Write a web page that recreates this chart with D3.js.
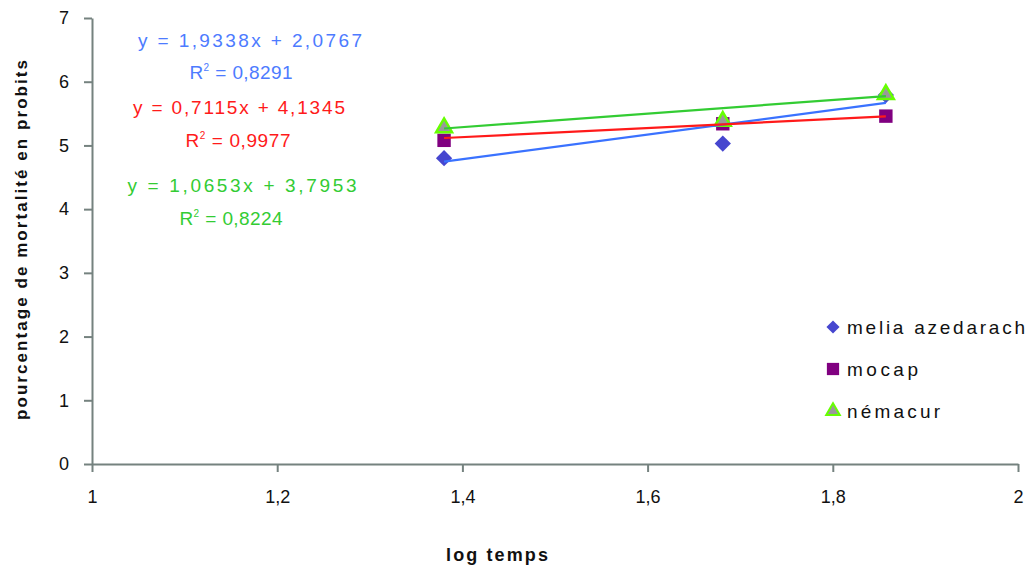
<!DOCTYPE html>
<html><head><meta charset="utf-8">
<script src="https://cdn.jsdelivr.net/npm/d3@7"></script>
<style>
body{margin:0;background:#fff;}
text{font-family:"Liberation Sans",Arial,sans-serif;}
</style></head>
<body><svg id="c" width="1033" height="570"></svg>
<script>
const logTemps = [1.3802, 1.6812, 1.8573];
const seriesNames = ["melia azedarach", "mocap", "némacur"];
const meliaValues = [4.80, 5.03, 5.79];
const mocapValues = [5.08, 5.34, 5.46];
const nemacurValues = [5.28, 5.38, 5.80];
const trendSlopes = [1.9338, 0.7115, 1.0653];
const trendIntercepts = [2.0767, 4.1345, 3.7953];
const equationLabels = ["y = 1,9338x + 2,0767", "y = 0,7115x + 4,1345", "y = 1,0653x + 3,7953"];
const r2Labels = ["0,8291", "0,9977", "0,8224"];
const xTicks = [1, 1.2, 1.4, 1.6, 1.8, 2];
const yTicks = [0, 1, 2, 3, 4, 5, 6, 7];

const svg = d3.select("#c");
const L = 92, R = 1018, T = 18, B = 464;
const x = d3.scaleLinear().domain([1, 2]).range([L, R]);
const y = d3.scaleLinear().domain([0, 7]).range([B, T]);
const fmt = v => String(+v.toFixed(1)).replace(".", ",");
const axisCol = "#75827f";

const xa = svg.append("g").attr("transform", `translate(0,${B})`)
  .call(d3.axisBottom(x).tickValues(xTicks).tickFormat(fmt).tickSize(8).tickPadding(25).tickSizeOuter(0));
const ya = svg.append("g").attr("transform", `translate(${L},0)`)
  .call(d3.axisLeft(y).tickValues(yTicks).tickFormat(d => d).tickSize(8).tickPadding(15).tickSizeOuter(0));
[xa, ya].forEach(a => {
  a.select(".domain").attr("stroke", axisCol).attr("stroke-width", 2);
  a.selectAll(".tick line").attr("stroke", axisCol).attr("stroke-width", 2);
  a.selectAll(".tick text").attr("font-size", 18).attr("fill", "#111").attr("font-family", "Liberation Sans, Arial");
});
xa.selectAll(".tick text").attr("dy", "0.32em");

// axis titles
svg.append("text").attr("x", 497).attr("y", 561).attr("text-anchor", "middle")
  .attr("font-size", 18).attr("font-weight", "bold").attr("fill", "#111")
  .attr("textLength", 102).attr("lengthAdjust", "spacing").text("log temps");
svg.append("text").attr("transform", "translate(27,240) rotate(-90)").attr("text-anchor", "middle")
  .attr("font-size", 17).attr("font-weight", "bold").attr("fill", "#111")
  .attr("textLength", 360).attr("lengthAdjust", "spacing").text("pourcentage de mortalité en probits");

const seriesData = [meliaValues, mocapValues, nemacurValues];
const fatDiamond = {draw(ctx, size) { const r = Math.sqrt(size) / 2 * 1.15; ctx.moveTo(0, -r); ctx.lineTo(r, 0); ctx.lineTo(0, r); ctx.lineTo(-r, 0); ctx.closePath(); }};
const sym = [
  {type: fatDiamond, size: 200, fill: "#4646cf", stroke: "none"},
  {type: d3.symbolSquare, size: 180, fill: "#800080", stroke: "none"},
  {type: d3.symbolTriangle, size: 110, fill: "#999999", stroke: "#66ff00"}
];

// markers
seriesData.forEach((vals, i) => {
  svg.append("g").selectAll("path").data(vals).join("path")
    .attr("transform", (d, j) => `translate(${x(logTemps[j])},${y(d)})`)
    .attr("d", d3.symbol().type(sym[i].type).size(sym[i].size))
    .attr("fill", sym[i].fill).attr("stroke", sym[i].stroke).attr("stroke-width", 2.5);
});

// trend lines
const lineCols = ["#3a72ff", "#ff1a1a", "#33cc33"];
const x0 = d3.min(logTemps), x1 = d3.max(logTemps);
trendSlopes.forEach((a, i) => {
  svg.append("line")
    .attr("x1", x(x0)).attr("y1", y(a * x0 + trendIntercepts[i]))
    .attr("x2", x(x1)).attr("y2", y(a * x1 + trendIntercepts[i]))
    .attr("stroke", lineCols[i]).attr("stroke-width", 2.2);
});

// equations
const textCols = ["#4d7bff", "#ff1a1a", "#33cc33"];
const eqY = [[47, 79], [114, 147], [192, 225]];
const eqX = [250, 239, 242];
const eqW = [224, 212, 229];
const r2X = [241, 238, 231];
const r2W = [103, 105, 103];
equationLabels.forEach((t, i) => {
  svg.append("text").attr("x", eqX[i]).attr("y", eqY[i][0]).attr("text-anchor", "middle")
    .attr("font-size", 19).attr("textLength", eqW[i]).attr("lengthAdjust", "spacing")
    .attr("fill", textCols[i]).text(t);
  const r = svg.append("text").attr("x", r2X[i]).attr("y", eqY[i][1]).attr("text-anchor", "middle")
    .attr("font-size", 19).attr("textLength", r2W[i]).attr("lengthAdjust", "spacing").attr("fill", textCols[i]);
  r.append("tspan").text("R");
  r.append("tspan").attr("font-size", 10).attr("dy", -8).text("2");
  r.append("tspan").attr("dy", 8).text(" = " + r2Labels[i]);
});

// legend
const legY = [327, 369, 411];
const legW = [178, 71, 93];
seriesNames.forEach((n, i) => {
  svg.append("path").attr("transform", `translate(833,${legY[i]})`)
    .attr("d", d3.symbol().type(sym[i].type).size(i === 2 ? 80 : (i === 0 ? 130 : 150)))
    .attr("fill", sym[i].fill).attr("stroke", sym[i].stroke).attr("stroke-width", 2);
  svg.append("text").attr("x", 847).attr("y", legY[i]).attr("dy", "0.35em")
    .attr("font-size", 19).attr("textLength", legW[i]).attr("lengthAdjust", "spacing")
    .attr("fill", "#111").text(n);
});
</script></body></html>
